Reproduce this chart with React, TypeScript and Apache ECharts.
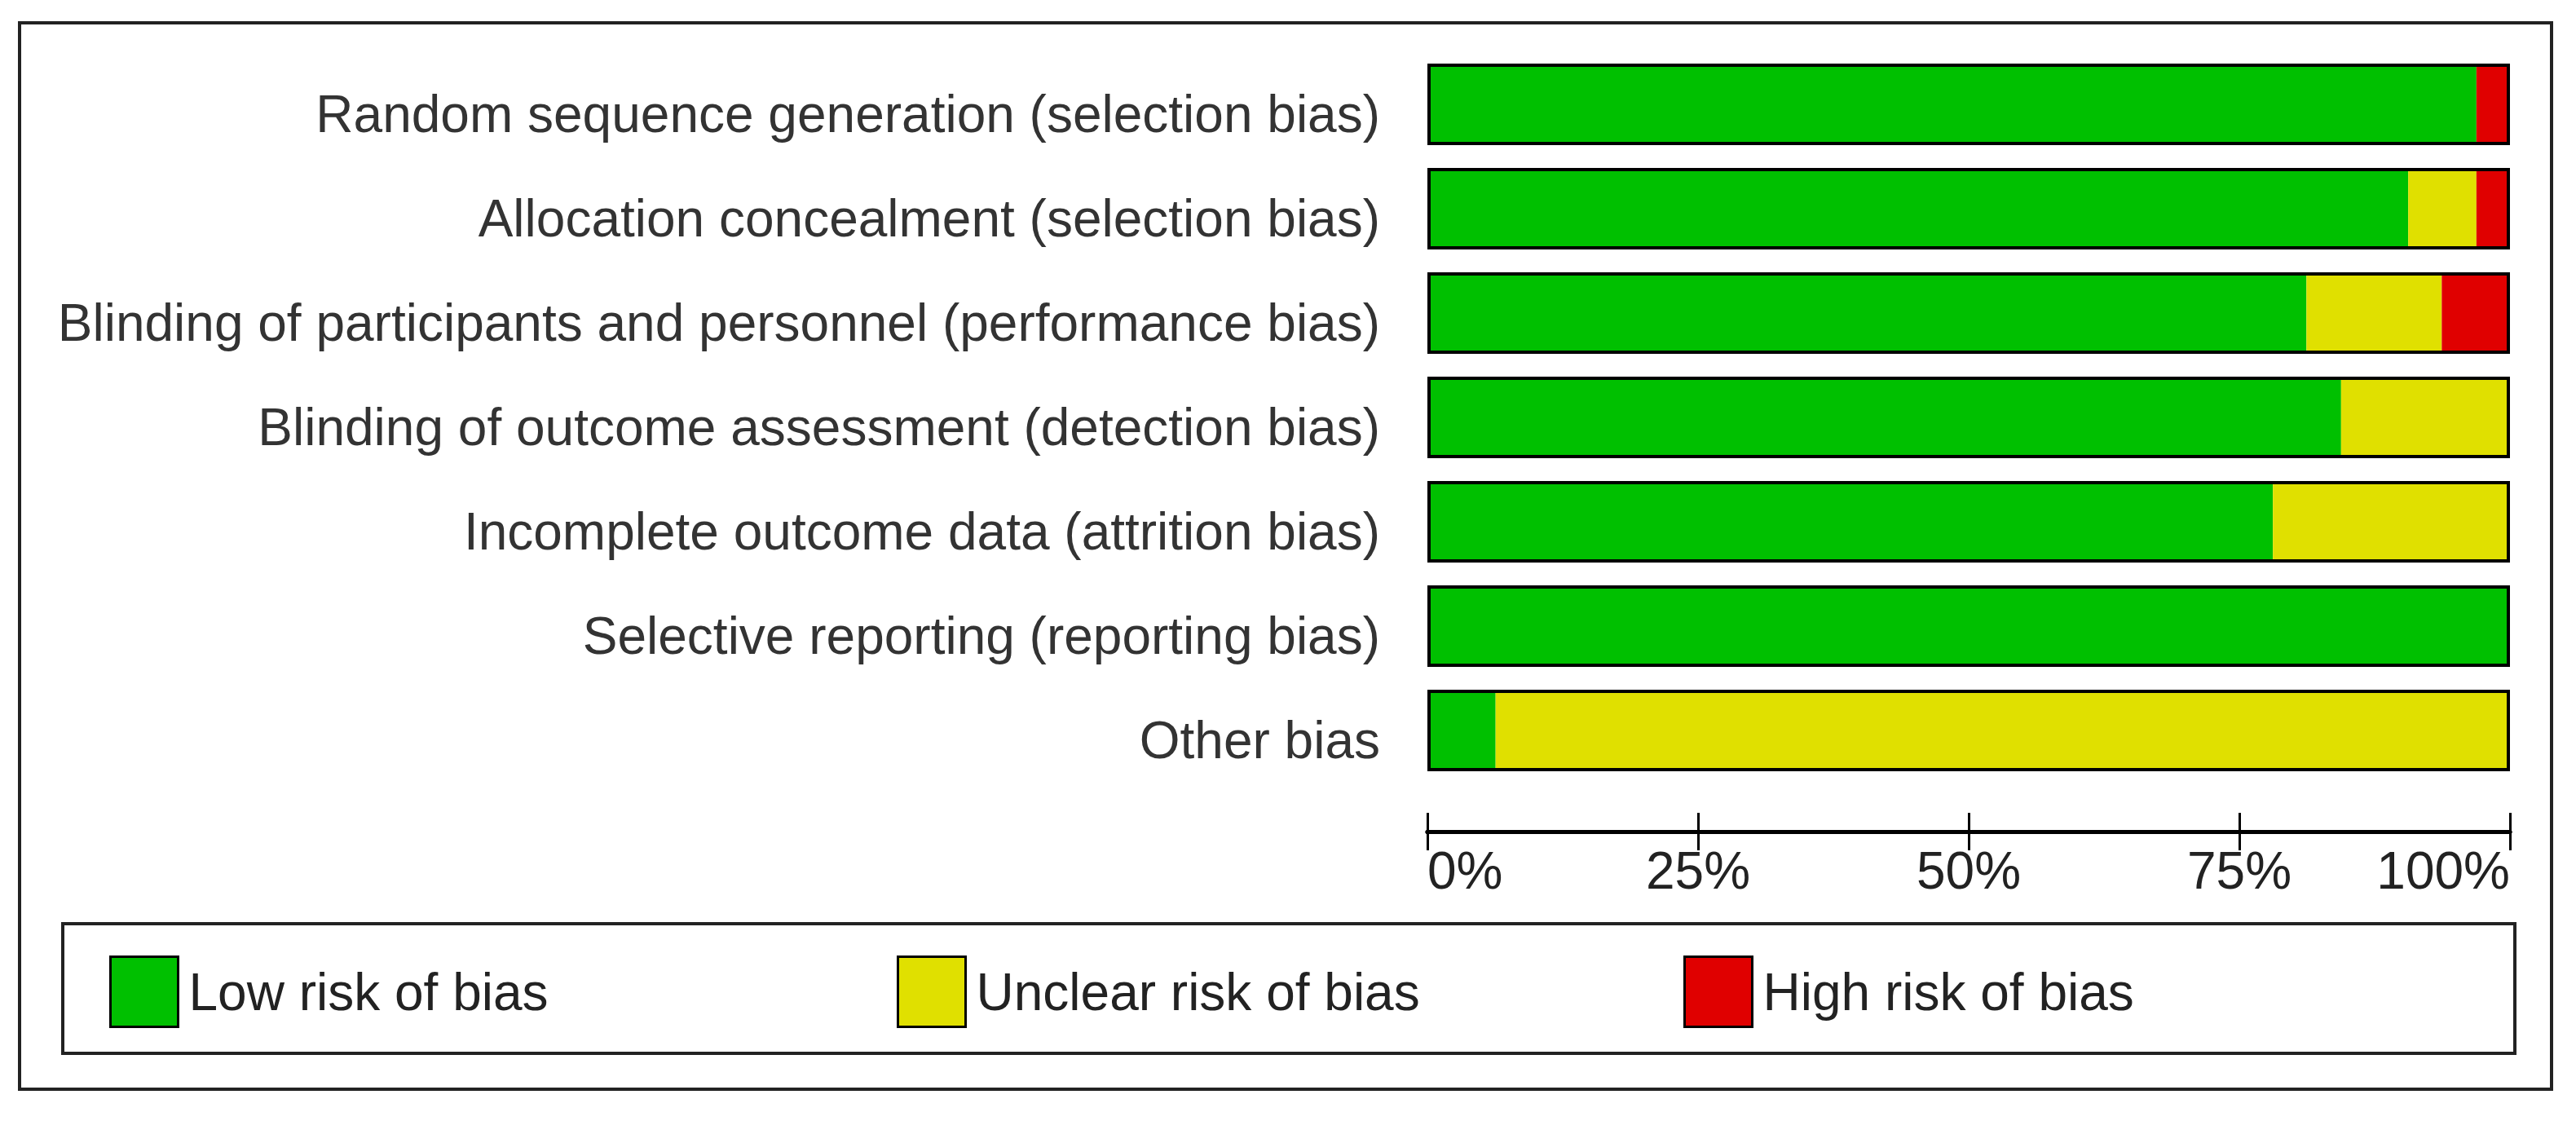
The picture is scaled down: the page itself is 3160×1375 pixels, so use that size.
import React, { useEffect, useRef } from "react";
import * as echarts from "echarts";

const categories = [
  "Random sequence generation (selection bias)",
  "Allocation concealment (selection bias)",
  "Blinding of participants and personnel (performance bias)",
  "Blinding of outcome assessment (detection bias)",
  "Incomplete outcome data (attrition bias)",
  "Selective reporting (reporting bias)",
  "Other bias",
];
const lowRisk = [96.9, 90.6, 81.2, 84.4, 78.1, 100, 6.3];
const unclearRisk = [0, 6.3, 12.5, 15.6, 21.9, 0, 93.7];
const highRisk = [3.1, 3.1, 6.3, 0, 0, 0, 0];
const totals = [100, 100, 100, 100, 100, 100, 100];
const seriesNames = ["Low risk of bias", "Unclear risk of bias", "High risk of bias"];
const seriesColors = ["#00C000", "#E0E000", "#E00000"];
const tickValues = [0, 25, 50, 75, 100];

const FONT = "'Liberation Sans', Arial, sans-serif";

export default function App() {
  const ref = useRef<HTMLDivElement>(null);
  useEffect(() => {
    if (!ref.current) return;
    const chart = echarts.init(ref.current, undefined, { renderer: "svg" });
    const dataSets = [lowRisk, unclearRisk, highRisk];
    const xAxisBase = {
      type: "value",
      min: tickValues[0],
      max: tickValues[tickValues.length - 1],
      interval: 25,
      position: "bottom",
      offset: 60,
      splitLine: { show: false },
      axisLine: { show: true, lineStyle: { color: "#000", width: 5 } },
    };
    chart.setOption({
      animation: false,
      backgroundColor: "#fff",
      grid: { left: 1751, right: 81, top: 64, height: 896, containLabel: false },
      xAxis: [
        {
          ...xAxisBase,
          axisTick: { show: true, length: 23, lineStyle: { color: "#000", width: 3 } },
          axisLabel: {
            show: true,
            margin: 16,
            fontSize: 64,
            fontFamily: FONT,
            color: "#222",
            formatter: "{value}%",
            alignMinLabel: "left",
            alignMaxLabel: "right",
          },
        },
        {
          ...xAxisBase,
          axisTick: { show: true, inside: true, length: 23, lineStyle: { color: "#000", width: 3 } },
          axisLabel: { show: false },
        },
      ],
      yAxis: {
        type: "category",
        data: categories,
        inverse: true,
        axisLine: { show: false },
        axisTick: { show: false },
        axisLabel: {
          margin: 58,
          fontSize: 64,
          fontFamily: FONT,
          color: "#333",
          formatter: (v: string) => `{a|${v}}`,
          rich: {
            a: { fontSize: 64, fontFamily: FONT, color: "#333", padding: [24, 0, 0, 0] },
          },
        },
      },
      legend: seriesNames.map((n, i) => ({
        data: [n],
        left: [129, 1095, 2060][i],
        top: 1167,
        itemWidth: 83,
        itemHeight: 86,
        icon: "rect",
        itemStyle: { borderColor: "#000", borderWidth: 3 },
        textStyle: { fontSize: 64, fontFamily: FONT, color: "#222", padding: [0, 0, 0, 8] },
        selectedMode: false,
      })),
      series: [
        ...seriesNames.map((n, i) => ({
          name: n,
          type: "bar",
          stack: "risk",
          barWidth: 100,
          barGap: "-100%",
          data: dataSets[i],
          itemStyle: { color: seriesColors[i], borderWidth: 0 },
          emphasis: { disabled: true },
        })),
        {
          name: "outline",
          type: "bar",
          barWidth: 100,
          barGap: "-100%",
          data: totals,
          z: 5,
          itemStyle: { color: "rgba(0,0,0,0)", borderColor: "#000", borderWidth: 4 },
          emphasis: { disabled: true },
          silent: true,
        },
      ],
      graphic: [
        {
          type: "rect",
          shape: { x: 24, y: 28, width: 3106, height: 1308 },
          style: { fill: "none", stroke: "#222", lineWidth: 4 },
          silent: true,
        },
        {
          type: "rect",
          shape: { x: 77, y: 1133, width: 3008, height: 159 },
          style: { fill: "none", stroke: "#222", lineWidth: 4 },
          silent: true,
        },
      ],
    });
    return () => chart.dispose();
  }, []);
  return (
    <div
      ref={ref}
      style={{ position: "fixed", left: 0, top: 0, width: 3160, height: 1375, background: "#fff" }}
    />
  );
}
